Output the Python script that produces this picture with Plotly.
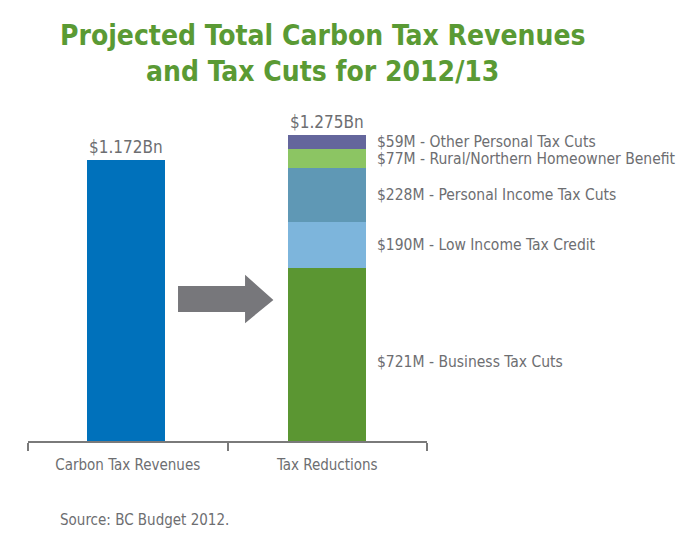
## Carbon tax revenues vs tax cuts, BC 2012/13

import plotly.graph_objs as go

#### Data
categories = ["Carbon Tax Revenues", "Tax Reductions"]
revenue_total = 1172
revenue_label = "$1.172Bn"
reduction_total_label = "$1.275Bn"

cut_names = [
    "Business Tax Cuts",
    "Low Income Tax Credit",
    "Personal Income Tax Cuts",
    "Rural/Northern Homeowner Benefit",
    "Other Personal Tax Cuts",
]
cut_values = [721, 190, 228, 77, 59]
cut_colors = ["#5b9632", "#7db5dc", "#5f98b5", "#8cc563", "#64669c"]

grey = "#6d6e71"
font_family = "Liberation Sans Narrow, DejaVu Sans Condensed, Arial Narrow, sans-serif"


#### Traces
data = [
    go.Bar(
        x=[categories[0]],
        y=[revenue_total],
        marker={"color": "#0071bb", "line": {"width": 0}},
        width=0.39,
        offset=-0.205,
        showlegend=False,
        hoverinfo="y",
    )
]

for name, val, col in zip(cut_names, cut_values, cut_colors):
    data.append(
        go.Bar(
            x=[categories[1]],
            y=[val],
            name=name,
            marker={"color": col, "line": {"width": 0}},
            width=0.39,
            showlegend=False,
        )
    )


#### Annotations
annotations = [
    dict(x=0.737, y=1.171, xref="paper", yref="paper",
         text="Projected Total Carbon Tax Revenues<br>and Tax Cuts for 2012/13",
         showarrow=False, xanchor="center", yanchor="middle",
         font={"size": 28, "color": "#5a9a34", "family": font_family, "weight": "bold"}),
    dict(x=-0.01, y=revenue_total, xref="x", yref="y", text=revenue_label,
         showarrow=False, yanchor="bottom", yshift=1,
         font={"size": 17, "color": grey, "family": font_family}),
    dict(x=1, y=sum(cut_values), xref="x", yref="y", text=reduction_total_label,
         showarrow=False, yanchor="bottom", yshift=1,
         font={"size": 17, "color": grey, "family": font_family}),
    dict(x=0.075, y=-0.239, xref="paper", yref="paper", xanchor="left",
         yanchor="middle",
         text="Source: BC Budget 2012.", showarrow=False,
         font={"size": 15, "color": grey, "family": font_family}),
]

bottom = 0
for name, val in zip(cut_names, cut_values):
    mid = bottom + val / 2
    if name == "Business Tax Cuts":
        mid -= 30
    annotations.append(
        dict(x=1.24, y=mid, xref="x", yref="y", xanchor="left",
             text="$%dM - %s" % (val, name), showarrow=False,
             font={"size": 15.5, "color": grey, "family": font_family})
    )
    bottom += val


#### Arrow shape (paper coords of the plot area)
arrow = dict(
    type="path",
    xref="paper", yref="paper",
    path="M 0.376 0.468 L 0.544 0.468 L 0.544 0.502 L 0.615 0.426 "
         "L 0.544 0.356 L 0.544 0.390 L 0.376 0.390 Z",
    fillcolor="#77777b",
    line={"width": 0},
)


#### Layout
# page body has an 8px margin, so the figure is made 8px smaller
layout = go.Layout(
    width=691,
    height=532,
    barmode="stack",
    bargap=0,
    plot_bgcolor="white",
    paper_bgcolor="white",
    margin={"l": 20, "r": 272, "t": 102, "b": 99},
    xaxis={
        "type": "category",
        "range": [-0.5, 1.5],
        "tickson": "boundaries",
        "ticks": "outside",
        "ticklen": 8,
        "tickwidth": 2,
        "tickcolor": "#7a7a7a",
        "showline": True,
        "linecolor": "#7a7a7a",
        "linewidth": 2,
        "showgrid": False,
        "ticklabelstandoff": 9,
        "tickfont": {"size": 15, "color": grey, "family": font_family},
    },
    yaxis={
        "range": [0, 1380],
        "visible": False,
        "showgrid": False,
        "zeroline": False,
    },
    annotations=annotations,
    shapes=[arrow],
)

fig = go.Figure(data=data, layout=layout)

fig.write_html("out.html")
